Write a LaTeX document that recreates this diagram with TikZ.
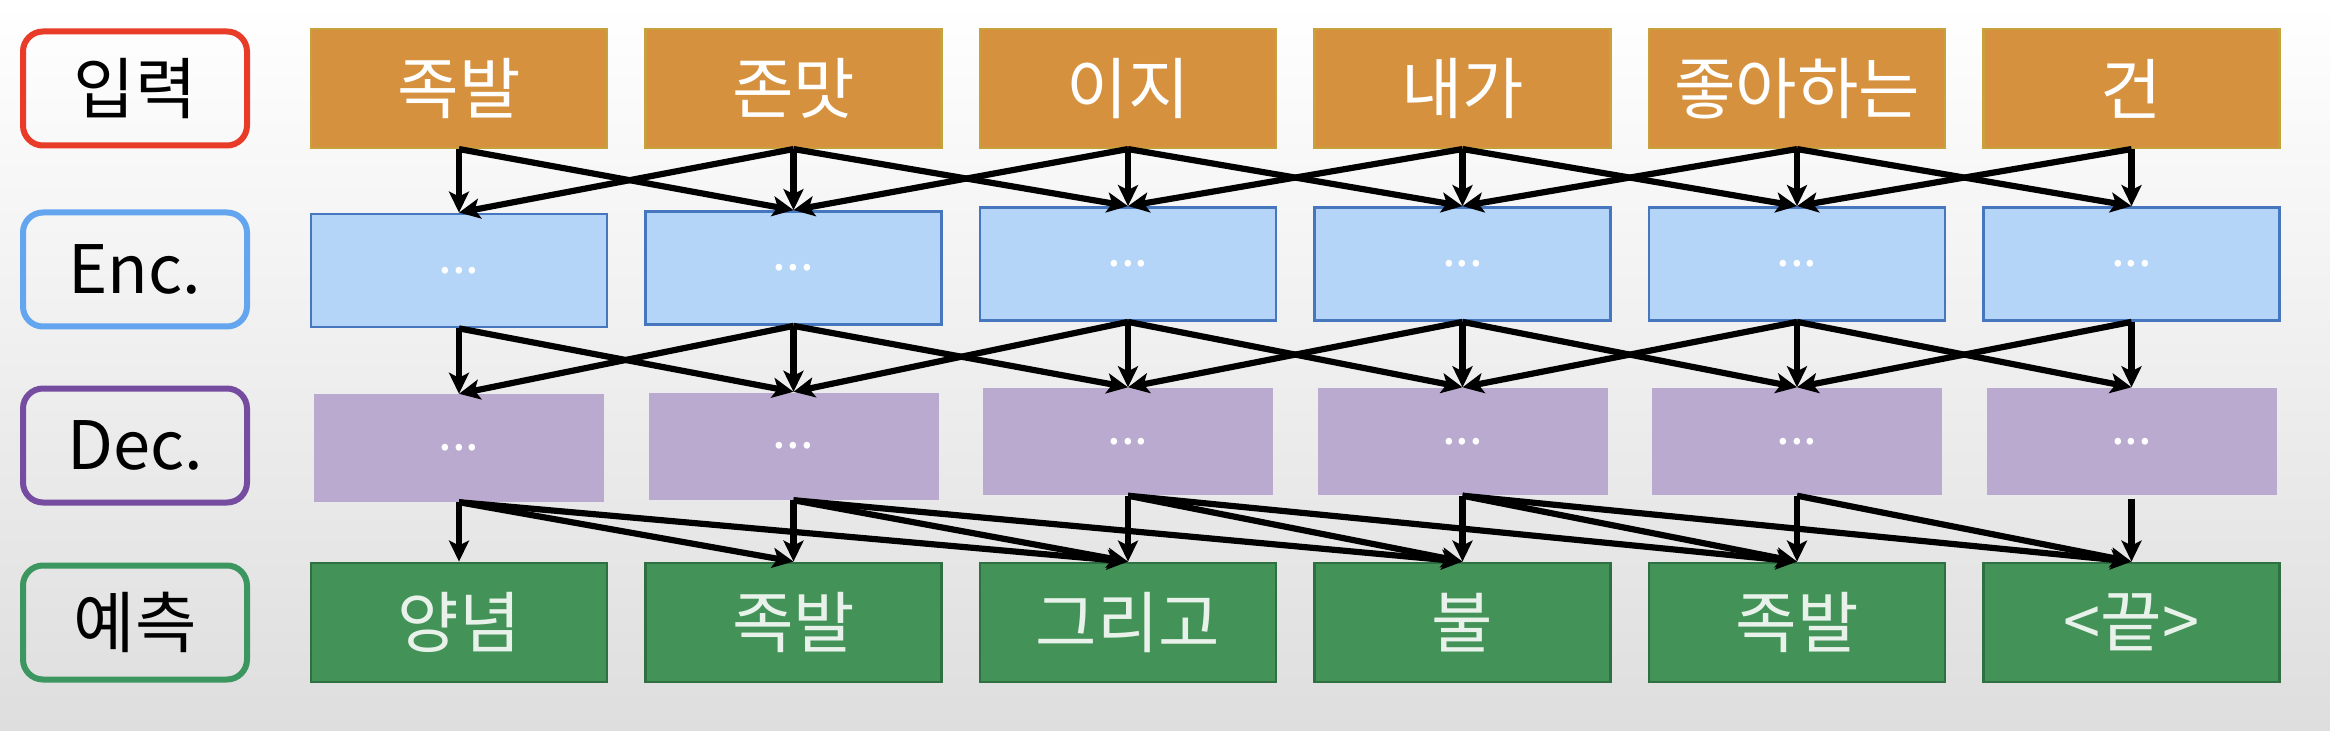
\documentclass[tikz,border=0pt]{standalone}
\usepackage{fontspec}
\setmainfont{Noto Sans CJK KR}
\usetikzlibrary{arrows.meta}

\definecolor{inorange}{RGB}{214,145,62}
\definecolor{inedge}{RGB}{200,160,60}
\definecolor{encblue}{RGB}{180,213,247}
\definecolor{encedge}{RGB}{70,118,190}
\definecolor{decpurple}{RGB}{187,170,208}
\definecolor{outgreen}{RGB}{67,146,88}
\definecolor{outedge}{RGB}{46,112,66}
\definecolor{outtext}{RGB}{232,242,234}
\definecolor{lblred}{RGB}{232,60,40}
\definecolor{lblblue}{RGB}{100,165,240}
\definecolor{lblpurple}{RGB}{118,76,160}
\definecolor{lblgreen}{RGB}{60,150,95}
\definecolor{bggray}{RGB}{222,222,222}

\begin{document}
\begin{tikzpicture}
    [%%%%%%%%%%%%%%%%%%%%%%%%%%%%%%
        lbl/.style={rectangle, rounded corners=0.2cm, line width=0.06cm, minimum width=2.24cm, minimum height=1.14cm, inner sep=0pt, font=\fontsize{19}{21}\selectfont},
        inbox/.style={rectangle, fill=inorange, draw=inedge, line width=0.6pt, minimum width=2.96cm, minimum height=1.19cm, inner sep=0pt, text=white, font=\fontsize{19}{21}\selectfont},
        encbox/.style={rectangle, fill=encblue, draw=encedge, line width=0.8pt, minimum width=2.96cm, minimum height=1.13cm, inner sep=0pt, text=white, font=\fontsize{14}{16}\selectfont},
        decbox/.style={rectangle, fill=decpurple, minimum width=2.90cm, minimum height=1.07cm, inner sep=0pt, text=white, font=\fontsize{14}{16}\selectfont},
        outbox/.style={rectangle, fill=outgreen, draw=outedge, line width=0.8pt, minimum width=2.96cm, minimum height=1.19cm, inner sep=0pt, text=outtext, font=\fontsize{19}{21}\selectfont},
        arr/.style={-{Stealth[length=0.21cm, width=0.2cm, inset=0.05cm]}, line width=0.062cm},
    ]%%%%%%%%%%%%%%%%%%%%%%%%%%%%%%
    \useasboundingbox (0,0) rectangle (23.3,7.3);
    \shade[top color=white, middle color=white, bottom color=bggray] (0,0) rectangle (23.3,7.3);

    % row labels
    \node[lbl, draw=lblred] (lin) at (1.35,6.415) {입력};
    \node[lbl, draw=lblblue] (lenc) at (1.35,4.605) {Enc.};
    \node[lbl, draw=lblpurple] (ldec) at (1.35,2.845) {Dec.};
    \node[lbl, draw=lblgreen] (lout) at (1.35,1.075) {예측};

    % input tokens
    \node[inbox] (in1) at (4.59,6.415) {족발};
    \node[inbox] (in2) at (7.935,6.415) {존맛};
    \node[inbox] (in3) at (11.28,6.415) {이지};
    \node[inbox] (in4) at (14.625,6.415) {내가};
    \node[inbox] (in5) at (17.97,6.415) {좋아하는};
    \node[inbox] (in6) at (21.315,6.415) {건};

    % encoder
    \node[encbox] (enc1) at (4.59,4.595) {...};
    \node[encbox] (enc2) at (7.935,4.62) {...};
    \node[encbox] (enc3) at (11.28,4.66) {...};
    \node[encbox] (enc4) at (14.625,4.66) {...};
    \node[encbox] (enc5) at (17.97,4.66) {...};
    \node[encbox] (enc6) at (21.315,4.66) {...};

    % decoder
    \node[decbox] (dec1) at (4.59,2.82) {...};
    \node[decbox] (dec2) at (7.935,2.84) {...};
    \node[decbox] (dec3) at (11.28,2.885) {...};
    \node[decbox] (dec4) at (14.625,2.885) {...};
    \node[decbox] (dec5) at (17.97,2.885) {...};
    \node[decbox] (dec6) at (21.315,2.885) {...};

    % predictions
    \node[outbox] (out1) at (4.59,1.075) {양념};
    \node[outbox] (out2) at (7.935,1.075) {족발};
    \node[outbox] (out3) at (11.28,1.075) {그리고};
    \node[outbox] (out4) at (14.625,1.075) {불};
    \node[outbox] (out5) at (17.97,1.075) {족발};
    \node[outbox] (out6) at (21.315,1.075) {<끝>};

    % input -> encoder
    \path (in1.south) edge[arr] (enc1.north) edge[arr] (enc2.north);
    \path (in2.south) edge[arr] (enc1.north) edge[arr] (enc2.north) edge[arr] (enc3.north);
    \path (in3.south) edge[arr] (enc2.north) edge[arr] (enc3.north) edge[arr] (enc4.north);
    \path (in4.south) edge[arr] (enc3.north) edge[arr] (enc4.north) edge[arr] (enc5.north);
    \path (in5.south) edge[arr] (enc4.north) edge[arr] (enc5.north) edge[arr] (enc6.north);
    \path (in6.south) edge[arr] (enc5.north) edge[arr] (enc6.north);

    % encoder -> decoder
    \path (enc1.south) edge[arr] (dec1.north) edge[arr] (dec2.north);
    \path (enc2.south) edge[arr] (dec1.north) edge[arr] (dec2.north) edge[arr] (dec3.north);
    \path (enc3.south) edge[arr] (dec2.north) edge[arr] (dec3.north) edge[arr] (dec4.north);
    \path (enc4.south) edge[arr] (dec3.north) edge[arr] (dec4.north) edge[arr] (dec5.north);
    \path (enc5.south) edge[arr] (dec4.north) edge[arr] (dec5.north) edge[arr] (dec6.north);
    \path (enc6.south) edge[arr] (dec5.north) edge[arr] (dec6.north);

    % decoder -> predictions
    \path (dec1.south) edge[arr] (out1.north) edge[arr] (out2.north) edge[arr] (out3.north);
    \path (dec2.south) edge[arr] (out2.north) edge[arr] (out3.north) edge[arr] (out4.north);
    \path (dec3.south) edge[arr] (out3.north) edge[arr] (out4.north) edge[arr] (out5.north);
    \path (dec4.south) edge[arr] (out4.north) edge[arr] (out5.north) edge[arr] (out6.north);
    \path (dec5.south) edge[arr] (out5.north) edge[arr] (out6.north);
    \path ([yshift=-0.03cm]dec6.south) edge[arr] (out6.north);

\end{tikzpicture}
\end{document}
